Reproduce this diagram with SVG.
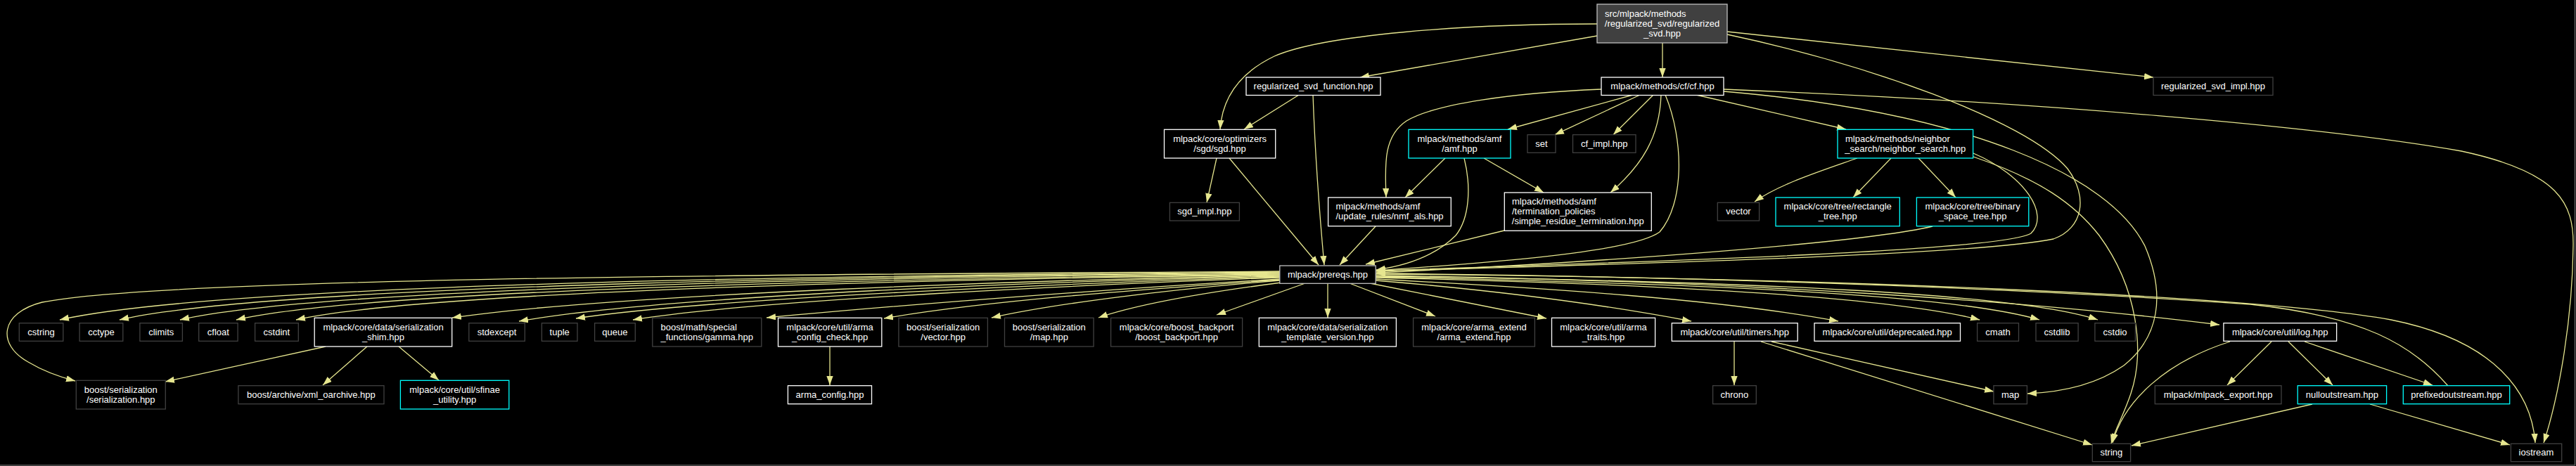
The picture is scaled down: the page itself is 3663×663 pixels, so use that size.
<svg xmlns="http://www.w3.org/2000/svg" width="3663" height="663" viewBox="0 0 3663 663">
<style>
.bg{fill:#000}
.n rect{fill:#000;stroke:#ffffff;stroke-width:1.3}
.g rect{fill:#000;stroke:#404040;stroke-width:1.3}
.c rect{fill:#000;stroke:#00ffff;stroke-width:1.3}
.r rect{fill:#404040;stroke:#bfbfbf;stroke-width:1.3}
.p rect{fill:#000;stroke:#bfbfbf;stroke-width:1.3}
text{font-family:"Liberation Sans",Arial,Helvetica,sans-serif;font-size:13px;fill:#ffffff}
.m{text-anchor:middle}
#edges path{fill:none;stroke:#e6e68f;stroke-width:1.3;marker-end:url(#ah)}
</style>
<defs>
<marker id="ah" markerUnits="userSpaceOnUse" markerWidth="14" markerHeight="10" refX="13" refY="4.65" orient="auto">
<path d="M0,0 L13,4.65 L0,9.3 z" fill="#e6e68f"/>
</marker>
</defs>
<rect class="bg" x="0" y="0" width="3663" height="663"/>
<path d="M0,661.8 H3661.5 V0" fill="none" stroke="#6a6a6a" stroke-width="1.3"/>

<g id="edges">
<path d="M2271,34 C2080,34 1880,50 1812,80 C1762,104 1738,140 1735,184"/>
<path d="M2271,51 L1934,110"/>
<path d="M2364,61 L2364,110"/>
<path d="M2456,45 L3062,110"/>
<path d="M2456,49 C2650,90 2880,170 2940,240 C2970,280 2962,325 2920,340 C2800,365 2200,378 1957,386"/>
<path d="M1847,135 L1769,184"/>
<path d="M1867,135 C1870,220 1876,300 1883,377"/>
<path d="M2277,127 C2150,132 2040,148 2000,172 C1965,195 1970,240 1971,281"/>
<path d="M2322,135 L2144,184"/>
<path d="M2332,135 L2211,191.7"/>
<path d="M2351,135 L2294,191.7"/>
<path d="M2362,135 C2360,195 2335,235 2290,274"/>
<path d="M2368,135 C2395,200 2395,290 2360,330 C2320,360 2100,375 1957,385"/>
<path d="M2412,135 L2625,184"/>
<path d="M2451,127 C2900,145 3300,180 3500,215 C3640,245 3660,290 3659,350 C3658,450 3640,560 3617,630"/>
<path d="M2451,130 C2800,160 3000,250 3050,350 C3080,420 3070,480 3020,520 C2980,548 2930,558 2883,560"/>
<path d="M1730,225 L1716,288"/>
<path d="M1748,225 L1875,377"/>
<path d="M2055,225 L1998,281"/>
<path d="M2110,225 L2195,274"/>
<path d="M2082,225 C2092,265 2090,310 2070,335 C2040,365 2000,378 1957,384"/>
<path d="M1956,322 L1905,377"/>
<path d="M2139,328 L1942,376"/>
<path d="M2641,225 C2590,243 2530,262 2495,287"/>
<path d="M2689,225 L2635,281"/>
<path d="M2728,225 L2781,281"/>
<path d="M2806,218 C2880,250 2915,305 2888,332 C2850,356 2400,371 1957,385"/>
<path d="M2806,223 C2900,255 2950,290 2985,335 C3040,410 3050,500 3030,560 C3020,590 3008,610 3002,631"/>
<path d="M2748,322 C2650,345 2300,372 1957,388"/>
<path d="M1820,386 C1300,390 250,392 60,430 C0,445 -5,490 40,515 C60,527 80,535 107,542"/>
<path d="M1820,387 C1300,391 330,400 85,455"/>
<path d="M1820,388 C1330,392 400,403 170,455"/>
<path d="M1820,389 C1360,393 470,406 256,455"/>
<path d="M1820,390 C1390,395 540,408 336,455"/>
<path d="M1820,391 C1420,396 620,411 421,455"/>
<path d="M1820,392 C1480,398 880,418 643,452"/>
<path d="M1820,393 C1500,400 950,420 738,457"/>
<path d="M1820,394 C1540,402 1010,424 819,453"/>
<path d="M1820,395 C1570,404 1080,426 900,455"/>
<path d="M1820,397 C1600,410 1300,432 1090,452"/>
<path d="M1820,398 C1620,412 1400,428 1257,453"/>
<path d="M1820,399 C1660,412 1500,432 1410,452"/>
<path d="M1822,402 C1730,414 1620,432 1562,452"/>
<path d="M1856,403 L1730,448"/>
<path d="M1888,403 L1888,452"/>
<path d="M1919,403 L2041,450"/>
<path d="M1948,403 L2199,453"/>
<path d="M1956,399 C2150,415 2300,437 2405,457"/>
<path d="M1956,397 C2200,410 2450,426 2614,457"/>
<path d="M1956,395 C2400,405 2700,425 2815,455"/>
<path d="M1956,394 C2450,404 2780,420 2900,455"/>
<path d="M1956,393 C2500,400 2870,418 2983,455"/>
<path d="M1956,392 C2500,400 2900,430 3156,462"/>
<path d="M1956,390 C2600,395 3200,420 3400,455 C3550,485 3600,560 3605,630"/>
<path d="M3481,549 C3430,490 3360,450 3200,433 C2800,405 2300,392 1957,389"/>
<path d="M463,493 L235,543"/>
<path d="M522,493 L459,548"/>
<path d="M567,493 L624,541"/>
<path d="M1180,493 L1180,548"/>
<path d="M2466,486 L2466,548"/>
<path d="M2519,486 L2835,557"/>
<path d="M2504,486 L2975,633"/>
<path d="M3230,486 L3167,548"/>
<path d="M3254,486 L3317,548"/>
<path d="M3277,486 L3459,548"/>
<path d="M3171,486 C3080,515 3020,570 3004,630"/>
<path d="M3288,575 L3031,634"/>
<path d="M3370,575 L3569,633"/>
</g>

<g id="n_root" class="r"><rect x="2271" y="6" width="185" height="55"/><text x="2282" y="23.5">src/mlpack/methods</text><text class="m" x="2363.5" y="37.5">/regularized_svd/regularized</text><text class="m" x="2363.5" y="51.5">_svd.hpp</text></g>
<g id="n_function" class="n"><rect x="1772" y="110" width="191" height="25.5"/><text class="m" x="1867.5" y="126.8">regularized_svd_function.hpp</text></g>
<g id="n_cf" class="n"><rect x="2277" y="110" width="174" height="25.5"/><text class="m" x="2364" y="126.8">mlpack/methods/cf/cf.hpp</text></g>
<g id="n_impl" class="g"><rect x="3062" y="110" width="170" height="25.5"/><text class="m" x="3147" y="126.8">regularized_svd_impl.hpp</text></g>
<g id="n_sgd" class="n"><rect x="1655.5" y="184.3" width="158.2" height="40.7"/><text class="m" x="1734.6" y="201.6">mlpack/core/optimizers</text><text class="m" x="1734.6" y="215.6">/sgd/sgd.hpp</text></g>
<g id="n_amf" class="c"><rect x="2003" y="184.3" width="145" height="40.7"/><text class="m" x="2075.5" y="201.6">mlpack/methods/amf</text><text class="m" x="2075.5" y="215.6">/amf.hpp</text></g>
<g id="n_set" class="g"><rect x="2172" y="191.7" width="40" height="25.6"/><text class="m" x="2192" y="208.5">set</text></g>
<g id="n_cfimpl" class="g"><rect x="2236.5" y="191.7" width="89.5" height="25.6"/><text class="m" x="2281.2" y="208.5">cf_impl.hpp</text></g>
<g id="n_ns" class="c"><rect x="2613" y="184.3" width="192.6" height="40.7"/><text x="2624" y="201.6">mlpack/methods/neighbor</text><text class="m" x="2709.3" y="215.6">_search/neighbor_search.hpp</text></g>
<g id="n_sgdimpl" class="g"><rect x="1663.4" y="288.3" width="99" height="25.7"/><text class="m" x="1712.9" y="305.2">sgd_impl.hpp</text></g>
<g id="n_nmf" class="n"><rect x="1888.6" y="281" width="174.7" height="40.7"/><text x="1899.4" y="298.4">mlpack/methods/amf</text><text class="m" x="1976" y="312.4">/update_rules/nmf_als.hpp</text></g>
<g id="n_term" class="n"><rect x="2139.3" y="274" width="209" height="54.3"/><text x="2150" y="291.2">mlpack/methods/amf</text><text x="2150" y="305.2">/termination_policies</text><text class="m" x="2243.8" y="319.2">/simple_residue_termination.hpp</text></g>
<g id="n_vector" class="g"><rect x="2442.3" y="288.3" width="59.3" height="25.7"/><text class="m" x="2472" y="305.2">vector</text></g>
<g id="n_rtree" class="c"><rect x="2525" y="281" width="176.3" height="40.7"/><text class="m" x="2613.2" y="298.4">mlpack/core/tree/rectangle</text><text class="m" x="2613.2" y="312.4">_tree.hpp</text></g>
<g id="n_bsp" class="c"><rect x="2725.4" y="281" width="159.4" height="40.7"/><text class="m" x="2805.1" y="298.4">mlpack/core/tree/binary</text><text class="m" x="2805.1" y="312.4">_space_tree.hpp</text></g>
<g id="n_prereqs" class="p"><rect x="1819.8" y="378" width="136.4" height="25.3"/><text class="m" x="1888" y="394.7">mlpack/prereqs.hpp</text></g>

<g id="n_cstring" class="g"><rect x="27.3" y="459.7" width="62.5" height="25.6"/><text class="m" x="58.5" y="476.5">cstring</text></g>
<g id="n_cctype" class="g"><rect x="113.1" y="459.7" width="61.7" height="25.6"/><text class="m" x="144" y="476.5">cctype</text></g>
<g id="n_climits" class="g"><rect x="198.9" y="459.7" width="60.5" height="25.6"/><text class="m" x="229.2" y="476.5">climits</text></g>
<g id="n_cfloat" class="g"><rect x="282.7" y="459.7" width="55.4" height="25.6"/><text class="m" x="310.4" y="476.5">cfloat</text></g>
<g id="n_cstdint" class="g"><rect x="362.6" y="459.7" width="61.7" height="25.6"/><text class="m" x="393.4" y="476.5">cstdint</text></g>
<g id="n_shim" class="n"><rect x="447.2" y="452.3" width="195.5" height="40.7"/><text class="m" x="545" y="469.6">mlpack/core/data/serialization</text><text class="m" x="545" y="483.6">_shim.hpp</text></g>
<g id="n_stdexcept" class="g"><rect x="666.8" y="459.7" width="79.5" height="25.6"/><text class="m" x="706.5" y="476.5">stdexcept</text></g>
<g id="n_tuple" class="g"><rect x="770.4" y="459.7" width="50.6" height="25.6"/><text class="m" x="795.7" y="476.5">tuple</text></g>
<g id="n_queue" class="g"><rect x="845.6" y="459.7" width="57.7" height="25.6"/><text class="m" x="874.4" y="476.5">queue</text></g>
<g id="n_gamma" class="g"><rect x="927.8" y="452.3" width="155" height="40.7"/><text x="939.5" y="469.6">boost/math/special</text><text class="m" x="1005.3" y="483.6">_functions/gamma.hpp</text></g>
<g id="n_acc" class="n"><rect x="1106.5" y="452.3" width="147.3" height="40.7"/><text class="m" x="1180.1" y="469.6">mlpack/core/util/arma</text><text class="m" x="1180.1" y="483.6">_config_check.hpp</text></g>
<g id="n_bsvector" class="g"><rect x="1277.9" y="452.3" width="126.5" height="40.7"/><text class="m" x="1341.1" y="469.6">boost/serialization</text><text class="m" x="1341.1" y="483.6">/vector.hpp</text></g>
<g id="n_bsmap" class="g"><rect x="1428.5" y="452.3" width="126.6" height="40.7"/><text class="m" x="1491.8" y="469.6">boost/serialization</text><text class="m" x="1491.8" y="483.6">/map.hpp</text></g>
<g id="n_backport" class="g"><rect x="1579.6" y="452.3" width="187" height="40.7"/><text class="m" x="1673.1" y="469.6">mlpack/core/boost_backport</text><text class="m" x="1673.1" y="483.6">/boost_backport.hpp</text></g>
<g id="n_tv" class="n"><rect x="1790.3" y="452.3" width="195.1" height="40.7"/><text class="m" x="1887.8" y="469.6">mlpack/core/data/serialization</text><text class="m" x="1887.8" y="483.6">_template_version.hpp</text></g>
<g id="n_ae" class="g"><rect x="2009.6" y="452.3" width="172.8" height="40.7"/><text class="m" x="2096" y="469.6">mlpack/core/arma_extend</text><text class="m" x="2096" y="483.6">/arma_extend.hpp</text></g>
<g id="n_at" class="n"><rect x="2206.5" y="452.3" width="147.1" height="40.7"/><text class="m" x="2280" y="469.6">mlpack/core/util/arma</text><text class="m" x="2280" y="483.6">_traits.hpp</text></g>
<g id="n_timers" class="n"><rect x="2377.3" y="459.7" width="178.9" height="25.6"/><text class="m" x="2466.7" y="476.5">mlpack/core/util/timers.hpp</text></g>
<g id="n_dep" class="n"><rect x="2580" y="459.7" width="207.5" height="25.6"/><text class="m" x="2683.7" y="476.5">mlpack/core/util/deprecated.hpp</text></g>
<g id="n_cmath" class="g"><rect x="2811.6" y="459.7" width="58.9" height="25.6"/><text class="m" x="2841" y="476.5">cmath</text></g>
<g id="n_cstdlib" class="g"><rect x="2895" y="459.7" width="60.1" height="25.6"/><text class="m" x="2925" y="476.5">cstdlib</text></g>
<g id="n_cstdio" class="g"><rect x="2978.9" y="459.7" width="57.5" height="25.6"/><text class="m" x="3007.6" y="476.5">cstdio</text></g>
<g id="n_log" class="n"><rect x="3161.9" y="459.7" width="160.7" height="25.6"/><text class="m" x="3242.2" y="476.5">mlpack/core/util/log.hpp</text></g>

<g id="n_bser" class="g"><rect x="108.3" y="541.3" width="127" height="40.7"/><text class="m" x="171.8" y="558.6">boost/serialization</text><text class="m" x="171.8" y="572.6">/serialization.hpp</text></g>
<g id="n_xml" class="g"><rect x="338.9" y="548.7" width="207.1" height="26"/><text class="m" x="442.4" y="565.7">boost/archive/xml_oarchive.hpp</text></g>
<g id="n_sfinae" class="c"><rect x="569.4" y="541.3" width="154.4" height="40.7"/><text class="m" x="646.6" y="558.6">mlpack/core/util/sfinae</text><text class="m" x="646.6" y="572.6">_utility.hpp</text></g>
<g id="n_armaconfig" class="n"><rect x="1120.4" y="548.7" width="119.1" height="26"/><text class="m" x="1180" y="565.7">arma_config.hpp</text></g>
<g id="n_chrono" class="g"><rect x="2435.6" y="548.7" width="61.7" height="26"/><text class="m" x="2466.4" y="565.7">chrono</text></g>
<g id="n_map" class="g"><rect x="2834.9" y="548.7" width="47.5" height="26"/><text class="m" x="2858.6" y="565.7">map</text></g>
<g id="n_export" class="g"><rect x="3064.3" y="548.7" width="179.7" height="26"/><text class="m" x="3154.1" y="565.7">mlpack/mlpack_export.hpp</text></g>
<g id="n_null" class="c"><rect x="3267.2" y="548.7" width="126.4" height="26"/><text class="m" x="3330.4" y="565.7">nulloutstream.hpp</text></g>
<g id="n_prefixed" class="c"><rect x="3417.3" y="548.7" width="151.4" height="26"/><text class="m" x="3493" y="565.7">prefixedoutstream.hpp</text></g>
<g id="n_string" class="g"><rect x="2975.3" y="631.3" width="54.3" height="25.4"/><text class="m" x="3002.4" y="648">string</text></g>
<g id="n_iostream" class="g"><rect x="3570.4" y="631.3" width="72.3" height="25.4"/><text class="m" x="3606.5" y="648">iostream</text></g>
</svg>
